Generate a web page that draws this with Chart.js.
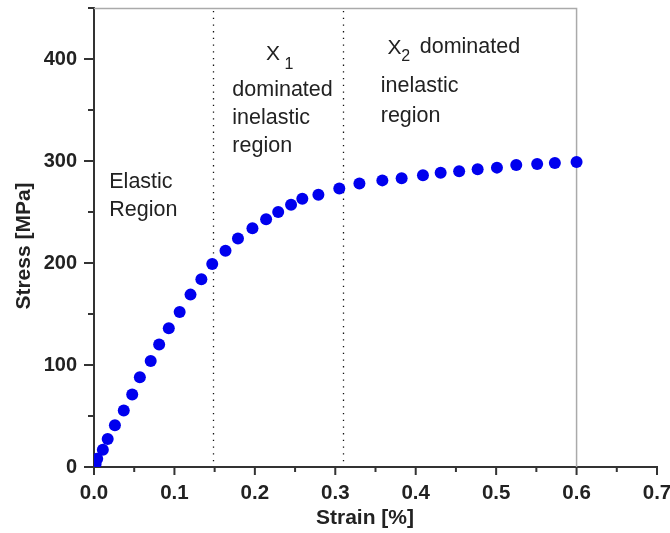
<!DOCTYPE html>
<html>
<head>
<meta charset="utf-8">
<script src="https://cdn.jsdelivr.net/npm/chart.js@4.4.1/dist/chart.umd.min.js"></script>
<style>
  html, body { margin: 0; padding: 0; background: #fff; }
  #wrap { width: 670px; height: 533px; position: relative; }
</style>
</head>
<body>
<div id="wrap"><canvas id="stressChart"></canvas></div>
<script>
// strain [%] and stress [MPa]
const strain = [0.002, 0.004, 0.011, 0.017, 0.026, 0.037, 0.0475, 0.057, 0.0705, 0.081, 0.093, 0.1065,
                0.12, 0.1335, 0.147, 0.1635, 0.179, 0.197, 0.214, 0.229, 0.245, 0.259, 0.279, 0.305,
                0.33, 0.3585, 0.3825, 0.409, 0.431, 0.454, 0.477, 0.501, 0.525, 0.551, 0.573, 0.6];
const stress = [3, 8, 17, 27.5, 41, 55.5, 71, 88, 104, 120, 136, 152,
                169, 184, 199, 212, 224, 234, 243, 250, 257, 263, 267, 273,
                278, 281, 283, 286, 288.5, 290, 292, 293.5, 296, 297, 298, 299];
const regionBounds = [0.148, 0.31];
const xTicks = [0, 0.1, 0.2, 0.3, 0.4, 0.5, 0.6, 0.7];
const yTicks = [0, 100, 200, 300, 400];
const boxEnd = { x: 0.6, y: 450 };

document.addEventListener('DOMContentLoaded', function() {
    const ctx = document.getElementById('stressChart').getContext('2d');
    const FONT = '"Liberation Sans", Arial, sans-serif';
    const INK = '#222';

    const isMajorX = v => xTicks.some(t => Math.abs(t - v) < 1e-6);
    const isMajorY = v => yTicks.some(t => Math.abs(t - v) < 1e-6);

    const decor = {
        id: 'decor',
        beforeDatasetsDraw(chart) {
            const { ctx, scales: { x, y }, chartArea } = chart;
            ctx.save();
            // grey frame top + right side at 0.6
            ctx.strokeStyle = '#aaa';
            ctx.lineWidth = 1.5;
            ctx.beginPath();
            ctx.moveTo(chartArea.left, y.getPixelForValue(boxEnd.y) + 0.5);
            ctx.lineTo(x.getPixelForValue(boxEnd.x), y.getPixelForValue(boxEnd.y) + 0.5);
            ctx.lineTo(x.getPixelForValue(boxEnd.x), chartArea.bottom);
            ctx.stroke();
            // dotted region borders
            ctx.strokeStyle = '#111';
            ctx.lineWidth = 1.3;
            ctx.setLineDash([1.3, 5.4]);
            regionBounds.forEach(b => {
                const px = Math.round(x.getPixelForValue(b)) + 0.5;
                ctx.beginPath();
                ctx.moveTo(px, chartArea.top + 3);
                ctx.lineTo(px, chartArea.bottom - 5);
                ctx.stroke();
            });
            ctx.restore();
        },
        afterDraw(chart) {
            const { ctx, scales: { x, y }, chartArea } = chart;
            ctx.save();
            // tick marks, long for labelled, short for minor
            ctx.strokeStyle = '#333';
            ctx.lineWidth = 2;
            x.ticks.forEach(t => {
                const px = x.getPixelForValue(t.value);
                const len = isMajorX(t.value) ? 8 : 5;
                ctx.beginPath();
                ctx.moveTo(px, chartArea.bottom);
                ctx.lineTo(px, chartArea.bottom + len);
                ctx.stroke();
            });
            y.ticks.forEach(t => {
                const py = y.getPixelForValue(t.value);
                const len = isMajorY(t.value) ? 10 : 6;
                ctx.beginPath();
                ctx.moveTo(chartArea.left, py);
                ctx.lineTo(chartArea.left - len, py);
                ctx.stroke();
            });

            // region notes
            ctx.fillStyle = INK;
            ctx.textBaseline = 'middle';
            ctx.textAlign = 'left';
            const notes = [
                ['Elastic', 0.019, 279.5], ['Region', 0.019, 252],
                ['X', 0.214, 405, 21], ['1', 0.237, 395, 16],
                ['dominated', 0.172, 369.5], ['inelastic', 0.172, 342.5], ['region', 0.172, 314.5],
                ['X', 0.365, 410.5, 21], ['2', 0.382, 402, 16], ['dominated', 0.405, 411.5],
                ['inelastic', 0.3565, 373], ['region', 0.3565, 344]
            ];
            notes.forEach(([txt, xv, yv, size]) => {
                ctx.font = (size || 21.5) + 'px ' + FONT;
                ctx.fillText(txt, x.getPixelForValue(xv), y.getPixelForValue(yv));
            });

            // axis titles
            ctx.font = 'bold 21px ' + FONT;
            ctx.textAlign = 'center';
            ctx.fillText('Strain [%]', 365, 518);
            ctx.translate(24, 246);
            ctx.rotate(-Math.PI / 2);
            ctx.fillText('Stress [MPa]', 0, 0);
            ctx.restore();
        }
    };

    new Chart(ctx, {
        type: 'scatter',
        data: {
            datasets: [{
                label: 'Stress',
                data: strain.map((s, i) => ({ x: s, y: stress[i] })),
                backgroundColor: '#0000ee',
                borderColor: '#0000ee',
                pointRadius: 6,
                pointHoverRadius: 6,
                borderWidth: 0
            }]
        },
        options: {
            responsive: true,
            maintainAspectRatio: false,
            animation: false,
            layout: { padding: { top: 8, right: 13, left: 0, bottom: 0 } },
            plugins: {
                legend: { display: false },
                tooltip: { enabled: false }
            },
            scales: {
                x: {
                    type: 'linear',
                    min: 0,
                    max: 0.7,
                    border: { color: '#333', width: 2 },
                    grid: { drawOnChartArea: false, tickLength: 8, color: 'transparent', tickColor: 'transparent' },
                    ticks: {
                        stepSize: 0.05,
                        autoSkip: false,
                        maxRotation: 0,
                        padding: 6,
                        color: INK,
                        font: { family: FONT, size: 20.5, weight: 'bold' },
                        callback: v => isMajorX(v) ? Number(v).toFixed(1) : ''
                    },
                    afterFit: s => { s.height = 66; s.paddingLeft = 0; s.paddingRight = 0; }
                },
                y: {
                    min: 0,
                    max: 450,
                    border: { color: '#333', width: 2 },
                    grid: { drawOnChartArea: false, tickLength: 10, color: 'transparent', tickColor: 'transparent' },
                    ticks: {
                        stepSize: 50,
                        autoSkip: false,
                        padding: 7,
                        color: INK,
                        font: { family: FONT, size: 20, weight: 'bold' },
                        callback: v => isMajorY(v) ? v : ''
                    },
                    afterFit: s => { s.width = 94; s.paddingTop = 0; s.paddingBottom = 0; }
                }
            }
        },
        plugins: [decor]
    });
});
</script>
</body>
</html>
